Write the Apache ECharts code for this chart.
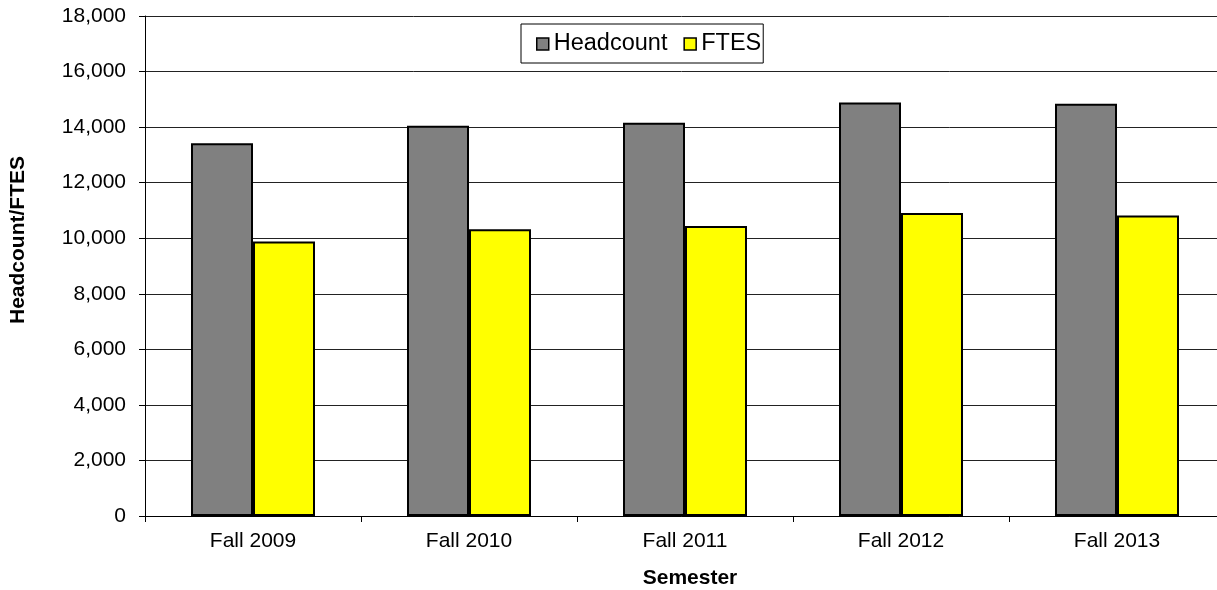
<!DOCTYPE html>
<html lang="en">
<head>
    <meta charset="UTF-8">
    <title>Headcount / FTES</title>
    <script src="https://cdn.jsdelivr.net/npm/echarts@6/dist/echarts.min.js"></script>
    <style type="text/css">
        body {
            margin: 0;
            padding: 0;
            background-color: #fff;
        }

        #chart {
            width: 1217px;
            height: 590px;
        }
    </style>
</head>
<body>
<div id="chart"></div>

<script>
    // data
    const semesters = ["Fall 2009", "Fall 2010", "Fall 2011", "Fall 2012", "Fall 2013"];
    const headcount = [13420, 14050, 14160, 14890, 14840];
    const ftes = [9880, 10320, 10440, 10910, 10820];
    const yTicks = [0, 2000, 4000, 6000, 8000, 10000, 12000, 14000, 16000, 18000];

    const font = "'Liberation Sans', Arial, sans-serif";

    const chart = echarts.init(document.getElementById("chart"));

    chart.setOption({
        animation: false,
        textStyle: { fontFamily: font, color: "#000" },
        // plot runs past the right edge of the picture, like the original
        grid: { left: 145, top: 16, width: 1080, height: 500, outerBoundsMode: "none", containLabel: false },
        legend: {
            left: 521,
            top: 24,
            padding: [8, 2, 7, 15],
            itemGap: 16,
            itemWidth: 12,
            itemHeight: 12,
            icon: "rect",
            borderColor: "#000",
            borderWidth: 1,
            textStyle: { fontSize: 23.5, color: "#000", lineHeight: 24 },
            itemStyle: { borderColor: "#000", borderWidth: 1.5 },
            data: ["Headcount", "FTES"],
        },
        xAxis: {
            type: "category",
            data: semesters,
            name: "Semester",
            nameLocation: "middle",
            nameGap: 52,
            nameTextStyle: { fontSize: 21, fontWeight: "bold", color: "#000", padding: [0, 0, 0, 10] },
            axisLine: { lineStyle: { color: "#000", width: 1 } },
            axisTick: { show: true, length: 6, inside: false, lineStyle: { color: "#000" } },
            axisLabel: { fontSize: 21, color: "#000", margin: 15 },
        },
        yAxis: {
            type: "value",
            min: yTicks[0],
            max: yTicks[yTicks.length - 1],
            interval: yTicks[1] - yTicks[0],
            axisLine: { show: true, lineStyle: { color: "#000", width: 1 } },
            axisTick: { show: true, length: 6, lineStyle: { color: "#000" } },
            axisLabel: {
                fontSize: 21,
                color: "#000",
                margin: 19,
                formatter: v => v.toLocaleString("en-US"),
            },
            splitLine: { show: true, lineStyle: { color: "#222", width: 1 } },
        },
        graphic: [
            {
                type: "text",
                x: 18,
                y: 240,
                rotation: Math.PI / 2,
                style: {
                    text: "Headcount/FTES",
                    font: "bold 21px " + font,
                    fill: "#000",
                    align: "center",
                    verticalAlign: "middle",
                },
            },
        ],
        series: [
            {
                name: "Headcount",
                type: "bar",
                data: headcount,
                barWidth: 62,
                barGap: "0%",
                itemStyle: { color: "#808080", borderColor: "#000", borderWidth: 2 },
            },
            {
                name: "FTES",
                type: "bar",
                data: ftes,
                barWidth: 62,
                barGap: "0%",
                itemStyle: { color: "#ffff00", borderColor: "#000", borderWidth: 2 },
            },
        ],
    });
</script>
</body>
</html>
